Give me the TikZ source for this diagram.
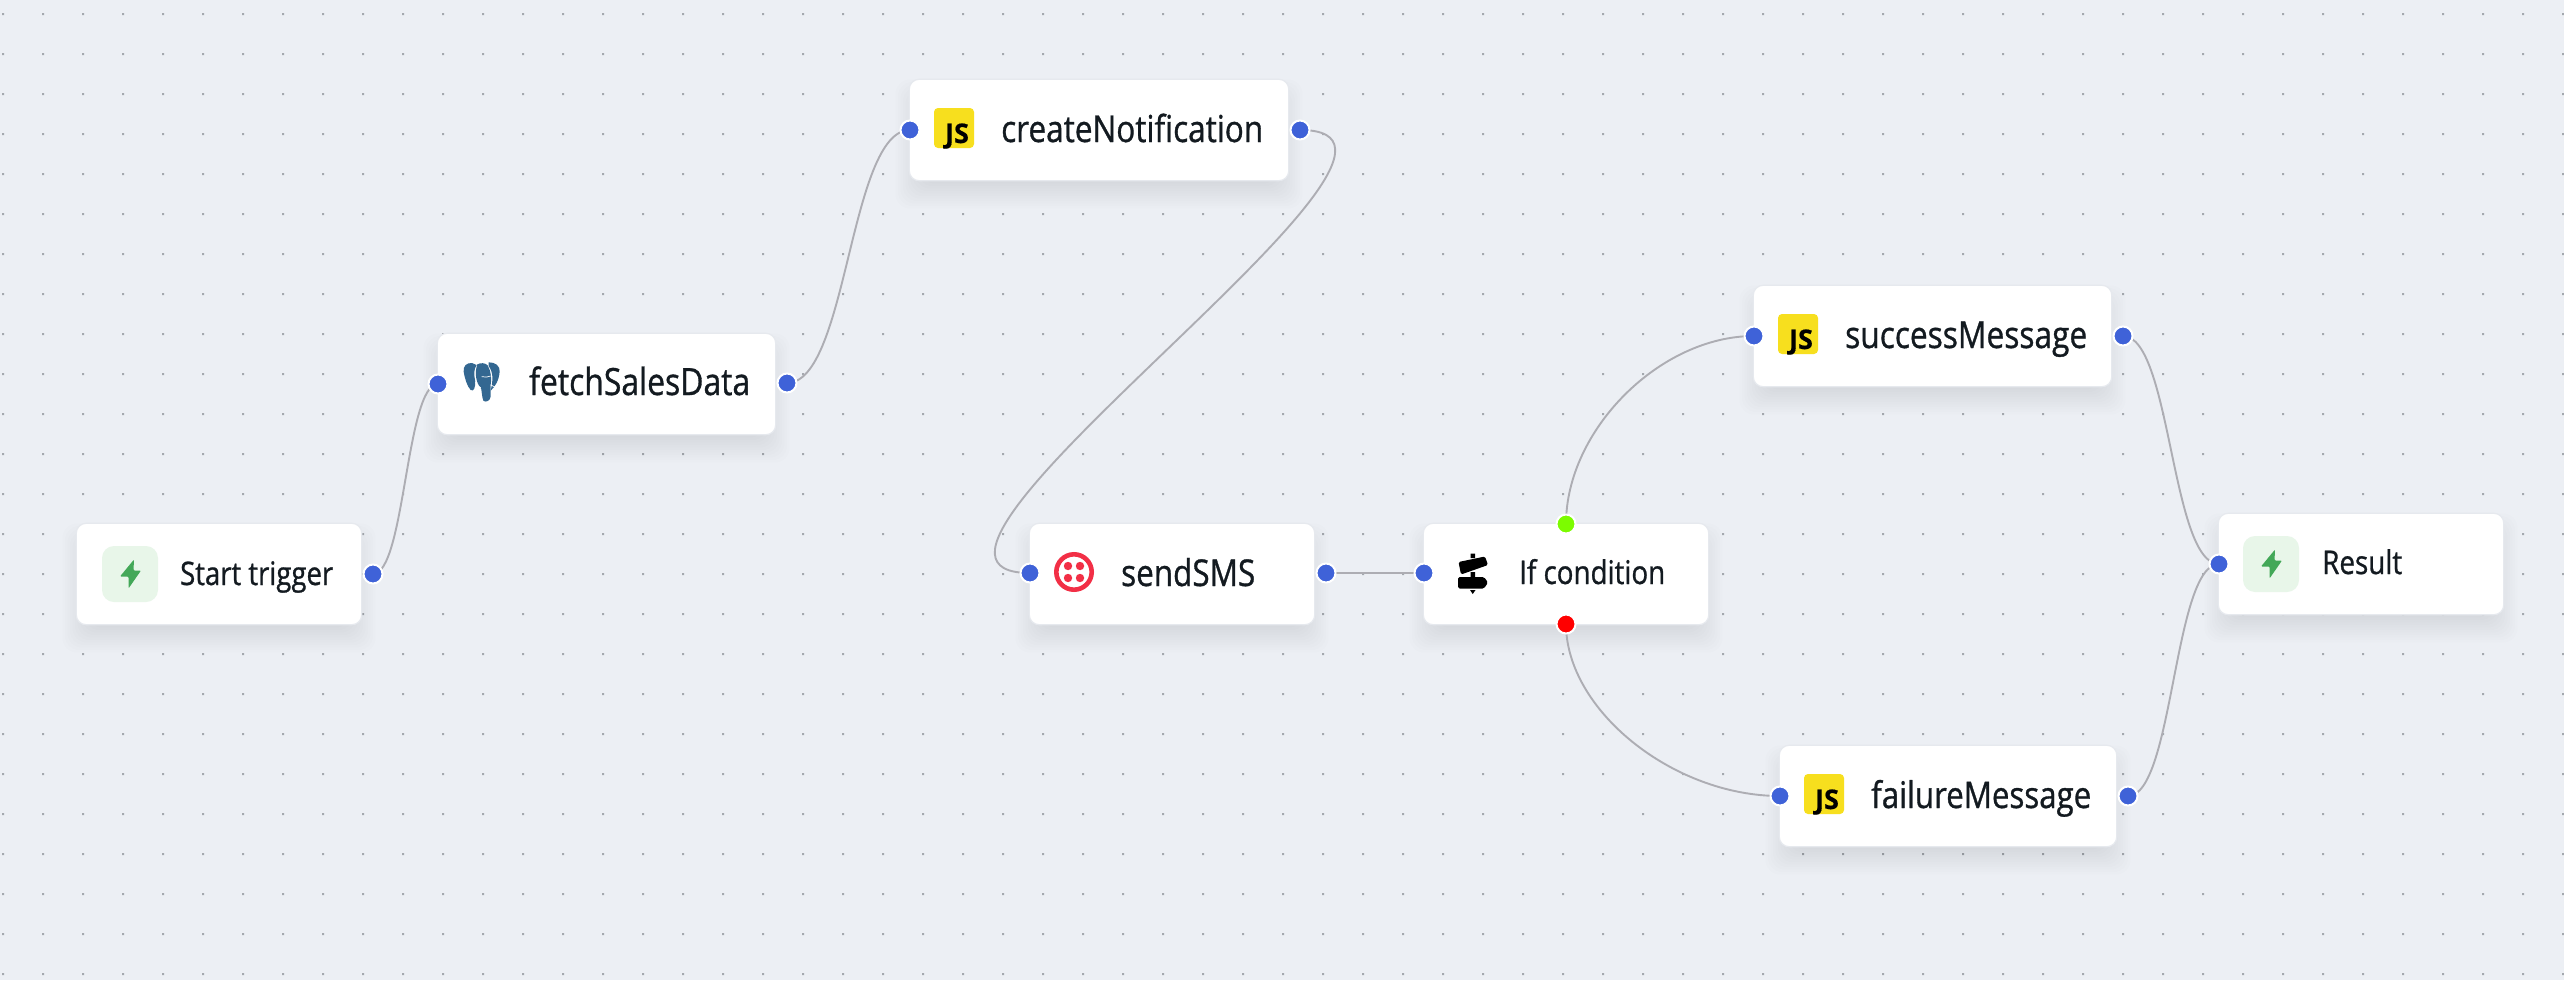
\documentclass[tikz,border=0pt]{standalone}
\usepackage{fontspec}
\setmainfont{Open Sans}
\newfontfamily\labfont[FakeBold=0.85,FakeStretch=0.85]{Open Sans}
\newfontfamily\jsfont[FakeBold=0.6]{Open Sans Bold}
\usetikzlibrary{calc}
\definecolor{canvas}{HTML}{ECEFF4}
\definecolor{griddot}{HTML}{A4A8AE}
\definecolor{edgegrey}{HTML}{ADADB3}
\definecolor{portblue}{HTML}{3F62D8}
\definecolor{cardline}{HTML}{E6E9EE}
\definecolor{inktext}{HTML}{131A20}
\definecolor{jsyellow}{HTML}{F7DF1E}
\definecolor{boltbg}{HTML}{E8F6E9}
\definecolor{boltgreen}{HTML}{43A858}
\definecolor{twilio}{HTML}{F22F46}
\definecolor{pgblue}{HTML}{336791}
\definecolor{limeg}{HTML}{7CFC00}
\pgfdeclarelayer{bglayer}
\pgfdeclarelayer{edgelayer}
\pgfsetlayers{bglayer,edgelayer,main}
\newcommand{\lbl}[2]{\resizebox{#1pt}{!}{\labfont\fontsize{32}{36}\selectfont #2}}
\newcommand{\softshadow}[4]{%
  \begin{pgfonlayer}{bglayer}
  \foreach \e in {-18,-15.5,...,16}{
    \fill[black,opacity=0.0068,rounded corners=14pt]
      (#1-\e,#2+14-\e) rectangle (#3+\e,#4+14+\e);
  }
  \end{pgfonlayer}}
\tikzset{
  x=1pt,y=-1pt,
  card/.style={draw=cardline,line width=1.2pt,fill=white,rounded corners=10pt,inner sep=0pt,
     minimum height=101.5pt},
  port/.style={circle,draw=white,line width=2pt,fill=portblue,minimum size=19pt,inner sep=0pt},
  portok/.style={port,fill=limeg},
  portno/.style={port,fill=red},
  link/.style={draw=edgegrey,line width=1.9pt},
  txt/.style={anchor=base west,inner sep=0pt,text=inktext},
  boltbox/.style={fill=boltbg,rounded corners=12pt,minimum size=56pt,inner sep=0pt},
  jsbox/.style={fill=jsyellow,rounded corners=4pt,minimum size=40pt,inner sep=0pt},
  jstext/.style={inner sep=0pt,anchor=base,text=black},
}
\newcommand{\bolt}[2]{%
  \fill[boltgreen,rounded corners=1pt,shift={(#1,#2)}]
    (4,-14.5) -- (-10,2.5) -- (-1.5,2.5) -- (-1.5,14.5) -- (11,-3.5) -- (3.5,-3.5) -- cycle;}
\newcommand{\jslogo}[3]{%
  \node[jsbox] (#3) at (#1,#2) {};
  \node[jstext] (#3t) at (#1+3,#2+15) {\jsfont\fontsize{27}{28}\selectfont JS};}
\begin{document}
\begin{tikzpicture}
\useasboundingbox (0,0) rectangle (2564,980);
\begin{pgfonlayer}{bglayer}
\fill[canvas] (0,0) rectangle (2564,980);
\fill[griddot] \foreach \i in {0,...,64}{\foreach \j in {0,...,24}{
   (2+40*\i,13+40*\j) rectangle +(2,2)}};
\end{pgfonlayer}

% shadows
\softshadow{77}{524}{361}{624}
\softshadow{438}{334}{775}{434}
\softshadow{910}{80}{1288}{180}
\softshadow{1030}{524}{1314}{624}
\softshadow{1424}{524}{1708}{624}
\softshadow{1754}{286}{2111}{386}
\softshadow{1780}{746}{2116}{846}
\softshadow{2219}{514}{2503}{614}

% cards
\node[card,minimum width=285.5pt] (start) at (219,574) {};
\node[card,minimum width=338.5pt] (fetch) at (606.5,384) {};
\node[card,minimum width=379.5pt] (create) at (1099,130) {};
\node[card,minimum width=285.5pt] (send) at (1172,574) {};
\node[card,minimum width=285.5pt] (cond) at (1566,574) {};
\node[card,minimum width=358.5pt] (success) at (1932.5,336) {};
\node[card,minimum width=337.5pt] (failure) at (1948,796) {};
\node[card,minimum width=285.5pt] (result) at (2361,564) {};

% labels
\node[txt] (tstart) at (180,585) {\lbl{153}{Start trigger}};
\node[txt] (tfetch) at (529,395) {\lbl{221}{fetchSalesData}};
\node[txt] (tcreate) at (1001,142) {\lbl{262}{createNotification}};
\node[txt] (tsend) at (1121,586) {\lbl{134}{sendSMS}};
\node[txt] (tcond) at (1519,584) {\lbl{146}{If condition}};
\node[txt] (tsuccess) at (1845,348) {\lbl{242}{successMessage}};
\node[txt] (tfailure) at (1871,808) {\lbl{220}{failureMessage}};
\node[txt] (tresult) at (2322,574) {\lbl{80}{Result}};

% icons
\node[boltbox] (istart) at (130,574) {};
\bolt{130}{574}
\node[boltbox] (iresult) at (2271,564) {};
\bolt{2271}{564}
\jslogo{954}{128}{jscreate}
\jslogo{1798}{334}{jssuccess}
\jslogo{1824}{794}{jsfailure}

% twilio
\draw[twilio,line width=4.6pt] (1074,572) circle (17.7pt);
\fill[twilio] (1068,566) circle (4.2pt) (1080,566) circle (4.2pt)
              (1068,578) circle (4.2pt) (1080,578) circle (4.2pt);

% postgres elephant
\begin{scope}[shift={(440,340)},x=0.3333pt,y=-0.3333pt]
  \fill[pgblue] (96,69) .. controls (80,68) and (69,78) .. (71,95)
     .. controls (74,115) and (82,140) .. (92,150)
     .. controls (102,157) and (106,140) .. (106,125)
     .. controls (102,105) and (100,90) .. (110,75) -- cycle;
  \fill[pgblue] (146,67) .. controls (165,66) and (181,78) .. (179,95)
     .. controls (177,120) and (166,140) .. (152,152)
     .. controls (158,125) and (162,100) .. (146,78) -- cycle;
  \fill[pgblue] (112,73) .. controls (122,68) and (135,68) .. (143,76)
     .. controls (154,95) and (155,118) .. (152,135)
     -- (152,170) .. controls (150,184) and (136,188) .. (130,182)
     .. controls (125,170) and (126,150) .. (122,143)
     .. controls (110,132) and (102,100) .. (112,73) -- cycle;
  \draw[white,line width=0.7pt] (125,110) .. controls (135,112) and (145,112) .. (152,108);
  \draw[white,line width=0.7pt] (106,125) .. controls (108,132) and (112,138) .. (122,143);
  \draw[white,line width=0.7pt] (152,135) -- (176,146);
  \draw[white,line width=0.7pt] (108,142) -- (124,150);
\end{scope}

% signpost
\fill[black,rounded corners=1.5pt]
  (1458.5,562) -- (1485,556.5) -- (1488,565) -- (1461,574.5) -- cycle
  (1458,577) -- (1484,577) -- (1488,582.5) -- (1484,588.5) -- (1458,588.5) -- cycle;
\fill[black] (1470.5,553.5) rectangle (1475,558)
  (1470.5,572) rectangle (1475,577.5)
  (1470,590) -- (1475.5,590) -- (1472.7,594) -- cycle;

% ports
\node[port] (pstartr) at (373,574) {};
\node[port] (pfetchl) at (438,384) {};
\node[port] (pfetchr) at (787,383) {};
\node[port] (pcreatel) at (910,130) {};
\node[port] (pcreater) at (1300,130) {};
\node[port] (psendl) at (1030,573) {};
\node[port] (psendr) at (1326,573) {};
\node[port] (pcondl) at (1424,573) {};
\node[portok] (pcondt) at (1566,524) {};
\node[portno] (pcondb) at (1566,624) {};
\node[port] (psuccessl) at (1754,336) {};
\node[port] (psuccessr) at (2123,336) {};
\node[port] (pfailurel) at (1780,796) {};
\node[port] (pfailurer) at (2128,796) {};
\node[port] (presultl) at (2219,564) {};

% connectors
\begin{pgfonlayer}{edgelayer}
\draw[link] (pstartr.center) .. controls +(32,0) and +(-32,0) .. (pfetchl.center);
\draw[link] (pfetchr.center) .. controls +(61,0) and +(-61,0) .. (pcreatel.center);
\draw[link] (pcreater.center) .. controls +(190,0) and +(-190,0) .. (psendl.center);
\draw[link] (psendr.center) -- (pcondl.center);
\draw[link] (pcondt.center) .. controls +(0,-94) and +(-94,0) .. (psuccessl.center);
\draw[link] (pcondb.center) .. controls +(0,86) and +(-107,0) .. (pfailurel.center);
\draw[link] (psuccessr.center) .. controls +(48,0) and +(-48,0) .. (presultl.center);
\draw[link] (pfailurer.center) .. controls +(45.5,0) and +(-45.5,0) .. (presultl.center);
\end{pgfonlayer}
\end{tikzpicture}
\end{document}
